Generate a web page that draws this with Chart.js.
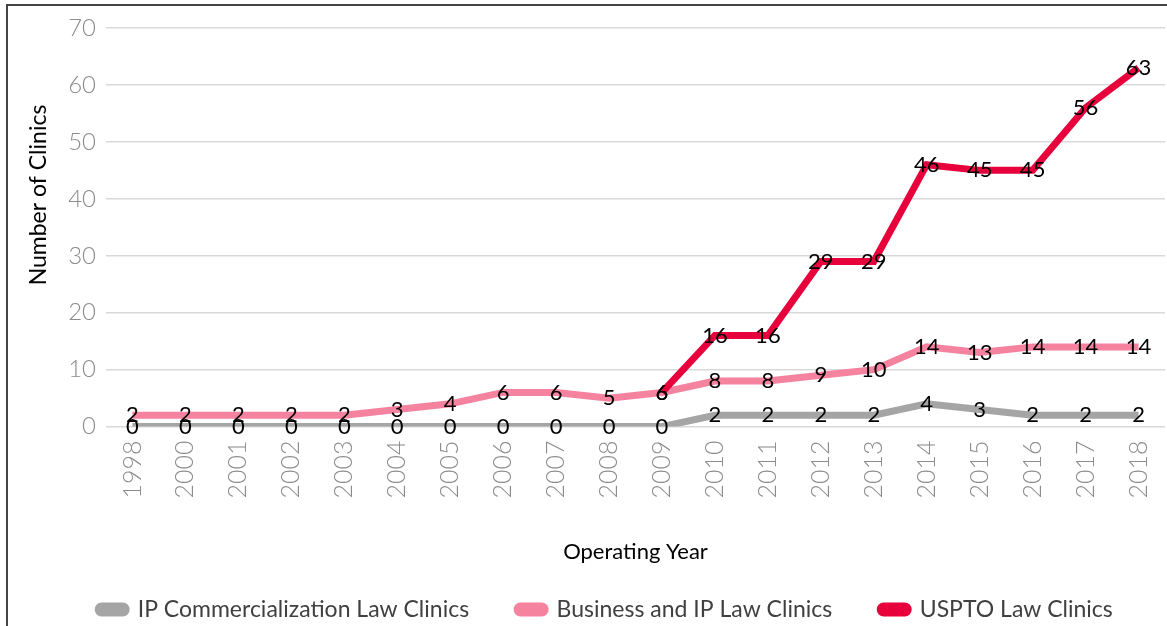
<!DOCTYPE html>
<html lang="en">
<head>
<meta charset="UTF-8">
<title>Clinics</title>
<script src="https://cdn.jsdelivr.net/npm/chart.js"></script>
<style>
    html, body { margin: 0; padding: 0; background: #fff; overflow: hidden; }
    .frame { position: absolute; left: 6px; top: 4px; width: 1200px; height: 700px; border: 2px solid #444; }
    #wrap { position: absolute; left: 0; top: 0; width: 1167px; height: 626px; }
</style>
</head>
<body>
<div class="frame"></div>
<div id="wrap"><canvas id="myChart" width="1167" height="626"></canvas></div>
<script>
    // data
    var anos = ['1998', '2000', '2001', '2002', '2003', '2004', '2005', '2006', '2007', '2008', '2009',
        '2010', '2011', '2012', '2013', '2014', '2015', '2016', '2017', '2018'];
    var ipComercial = [0, 0, 0, 0, 0, 0, 0, 0, 0, 0, 0, 2, 2, 2, 2, 4, 3, 2, 2, 2];
    var businessIp = [2, 2, 2, 2, 2, 3, 4, 6, 6, 5, 6, 8, 8, 9, 10, 14, 13, 14, 14, 14];
    var uspto = [null, null, null, null, null, null, null, null, null, null, 6, 16, 16, 29, 29, 46, 45, 45, 56, 63];
    var yTicks = [0, 10, 20, 30, 40, 50, 60, 70];

    var fonte = 'Lato, "Noto Sans", sans-serif';

    // numbers on top of the points
    const rotulos = {
        id: 'rotulos',
        afterDatasetsDraw(chart) {
            const ctx = chart.ctx;
            ctx.save();
            ctx.font = '22px ' + fonte;
            ctx.fillStyle = '#000';
            ctx.textAlign = 'center';
            ctx.textBaseline = 'middle';
            for (let d = chart.data.datasets.length - 1; d >= 0; d--) {
                const meta = chart.getDatasetMeta(d);
                const valores = chart.data.datasets[d].data;
                meta.data.forEach((pt, i) => {
                    if (valores[i] === null) return;
                    ctx.fillText(String(valores[i]), pt.x, pt.y);
                });
            }
            ctx.restore();
        }
    };

    // y axis title sits a bit above the middle, like in excel
    const tituloY = {
        id: 'tituloY',
        afterLayout(chart) {
            chart.legend.left += 19;
            chart.legend.right += 19;
        },
        afterDraw(chart) {
            const ctx = chart.ctx;
            ctx.save();
            ctx.translate(39, 195);
            ctx.rotate(-Math.PI / 2);
            ctx.font = '23px ' + fonte;
            ctx.fillStyle = '#000';
            ctx.textAlign = 'center';
            ctx.textBaseline = 'middle';
            ctx.fillText('Number of Clinics', 0, 0);
            ctx.restore();
        }
    };

    new Chart(document.getElementById('myChart'), {
        type: 'line',
        data: {
            labels: anos,
            datasets: [{
                label: 'USPTO Law Clinics',
                data: uspto,
                borderColor: '#e8003d',
                backgroundColor: '#e8003d',
                borderWidth: 7,
                pointRadius: 0,
                tension: 0
            }, {
                label: 'Business and IP Law Clinics',
                data: businessIp,
                borderColor: '#f5829f',
                backgroundColor: '#f5829f',
                borderWidth: 7,
                pointRadius: 0,
                tension: 0
            }, {
                label: 'IP Commercialization Law Clinics',
                data: ipComercial,
                borderColor: '#a5a5a5',
                backgroundColor: '#a5a5a5',
                borderWidth: 7,
                pointRadius: 0,
                tension: 0
            }]
        },
        options: {
            responsive: false,
            animation: false,
            devicePixelRatio: 1,
            layout: { padding: { left: 8, right: 2, top: 28, bottom: -5 } },
            plugins: {
                tooltip: { enabled: false },
                legend: {
                    position: 'bottom',
                    reverse: true,
                    labels: {
                        boxWidth: 28,
                        boxHeight: 7,
                        useBorderRadius: true,
                        borderRadius: 3.5,
                        padding: 48,
                        color: '#404040',
                        font: { family: fonte, size: 23 }
                    }
                }
            },
            scales: {
                x: {
                    offset: true,
                    afterFit: (axis) => { axis.paddingRight = 0; axis.paddingLeft = 0; },
                    grid: { display: false },
                    border: { display: false },
                    ticks: {
                        color: '#8c8c8c',
                        minRotation: 90,
                        maxRotation: 90,
                        padding: 6,
                        font: { family: fonte, size: 25, weight: 300 }
                    },
                    title: {
                        display: true,
                        text: 'Operating Year',
                        color: '#000',
                        padding: { top: 34, bottom: -15 },
                        font: { family: fonte, size: 22 }
                    }
                },
                y: {
                    min: 0,
                    max: 70,
                    afterBuildTicks: (axis) => { axis.ticks = yTicks.map(v => ({ value: v })); },
                    afterFit: (axis) => { axis.width = 98; },
                    grid: { color: '#d9d9d9', lineWidth: 1.5, drawTicks: false },
                    border: { display: false },
                    ticks: {
                        color: '#8c8c8c',
                        padding: 10,
                        font: { family: fonte, size: 24, weight: 300 }
                    }
                }
            }
        },
        plugins: [rotulos, tituloY]
    });
</script>
</body>
</html>
